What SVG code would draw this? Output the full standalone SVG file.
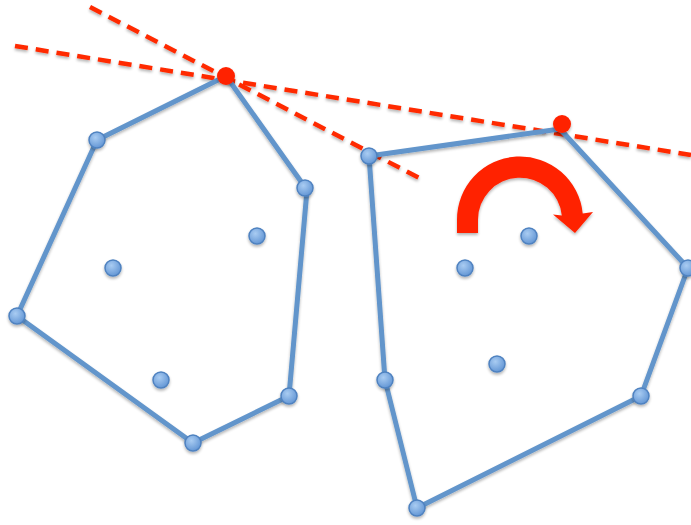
<svg xmlns="http://www.w3.org/2000/svg" width="691" height="525" viewBox="0 0 691 525">
<defs>
  <radialGradient id="dotg" cx="0.4" cy="0.35" r="0.7">
    <stop offset="0" stop-color="#a9ccf2"/>
    <stop offset="1" stop-color="#5f93d3"/>
  </radialGradient>
  <filter id="sh" x="-20%" y="-20%" width="140%" height="140%">
    <feGaussianBlur in="SourceAlpha" stdDeviation="1.5"/>
    <feOffset dx="0" dy="2" result="b"/>
    <feComponentTransfer><feFuncA type="linear" slope="0.3"/></feComponentTransfer>
    <feMerge><feMergeNode/><feMergeNode in="SourceGraphic"/></feMerge>
  </filter>
</defs>
<style>
  .edge{fill:none;stroke:#6295cb;stroke-width:5;stroke-linejoin:round;stroke-linecap:round}
  .dash{fill:none;stroke:#ff2a00;stroke-width:4.5;stroke-dasharray:13 8}
  .pt{fill:url(#dotg);stroke:#4f82c0;stroke-width:1.5}
  .red{fill:#ff2200}
</style>
<g id="tangent-lines" filter="url(#sh)">
  <line class="dash" x1="90" y1="7" x2="425" y2="181"/>
  <line class="dash" x1="15" y1="46" x2="691" y2="155"/>
</g>
<g id="connectors" filter="url(#sh)">
  <polygon class="edge" points="97,140 226,76 307,190 289,396 193,443 17,316"/>
  <polygon class="edge" points="369,156 560,129 688,268 641,396 417,508 385,380"/>
</g>
<g id="left-hull" filter="url(#sh)">
  <circle class="pt" cx="97" cy="140" r="8"/>
  <circle class="pt" cx="305" cy="188" r="8"/>
  <circle class="pt" cx="289" cy="396" r="8"/>
  <circle class="pt" cx="193" cy="443" r="8"/>
  <circle class="pt" cx="17" cy="316" r="8"/>
  <circle class="pt" cx="257" cy="236" r="8"/>
  <circle class="pt" cx="113" cy="268" r="8"/>
  <circle class="pt" cx="161" cy="380" r="8"/>
</g>
<g id="right-hull" filter="url(#sh)">
  <circle class="pt" cx="369" cy="156" r="8"/>
  <circle class="pt" cx="688" cy="268" r="8"/>
  <circle class="pt" cx="641" cy="396" r="8"/>
  <circle class="pt" cx="417" cy="508" r="8"/>
  <circle class="pt" cx="385" cy="380" r="8"/>
  <circle class="pt" cx="529" cy="236" r="8"/>
  <circle class="pt" cx="465" cy="268" r="8"/>
  <circle class="pt" cx="497" cy="364" r="8"/>
</g>
<g id="red-points" filter="url(#sh)">
  <circle class="red" cx="226" cy="76" r="9"/>
  <circle class="red" cx="562" cy="124" r="9"/>
</g>
<g id="rotation-arrow" filter="url(#sh)">
  <path class="red" d="M457,233 L457,220 A63,63 0 0 1 582.7,213.4 L593,212 L575,233 L553,214.5 L561.8,215.6 A42,42 0 0 0 478,220 L478,233 Z"/>
</g>
</svg>
